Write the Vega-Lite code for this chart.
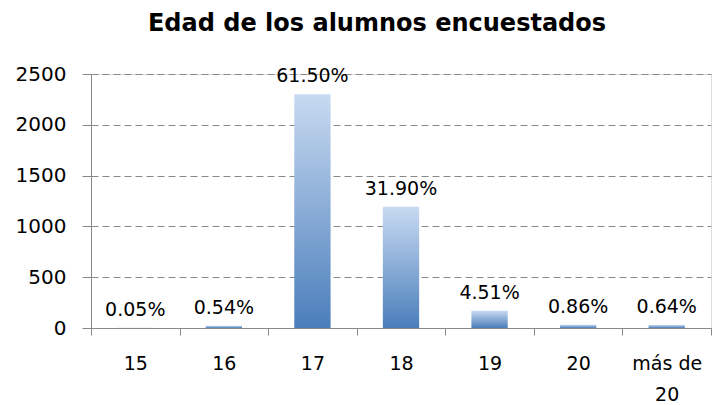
{
  "$schema": "https://vega.github.io/schema/vega-lite/v6.json",
  "width": 620,
  "height": 254,
  "autosize": {"type": "none"},
  "padding": {"left": 91, "top": 74, "right": 3, "bottom": 77},
  "background": "white",
  "title": {
    "text": "Edad de los alumnos encuestados",
    "font": "DejaVu Sans",
    "fontSize": 24,
    "fontWeight": "bold",
    "color": "#000000",
    "anchor": "middle",
    "dx": -24,
    "offset": 28
  },
  "data": {
    "values": [
      {"edad": "15", "alumnos": 2, "pct": "0.05%"},
      {"edad": "16", "alumnos": 22, "pct": "0.54%"},
      {"edad": "17", "alumnos": 2300, "pct": "61.50%"},
      {"edad": "18", "alumnos": 1193, "pct": "31.90%"},
      {"edad": "19", "alumnos": 169, "pct": "4.51%"},
      {"edad": "20", "alumnos": 32, "pct": "0.86%"},
      {"edad": "más de 20", "alumnos": 30, "pct": "0.64%"}
    ]
  },
  "encoding": {
    "x": {
      "field": "edad",
      "type": "nominal",
      "sort": null,
      "scale": {"paddingInner": 0, "paddingOuter": 0},
      "axis": {
        "title": null,
        "labelAngle": 0,
        "tickBand": "extent",
        "tickSize": 7,
        "tickColor": "#888888",
        "domainColor": "#888888",
        "labelFont": "DejaVu Sans",
        "labelFontSize": 19,
        "labelColor": "#000000",
        "labelPadding": 19,
        "labelLineHeight": 31,
        "labelExpr": "datum.label == 'más de 20' ? ['más de', '20'] : datum.label"
      }
    },
    "y": {
      "field": "alumnos",
      "type": "quantitative",
      "scale": {"domain": [0, 2500]},
      "axis": {
        "title": null,
        "format": "d",
        "values": [0, 500, 1000, 1500, 2000, 2500],
        "tickSize": 9,
        "tickColor": "#888888",
        "domainColor": "#888888",
        "gridColor": "#888888",
        "gridDash": [7, 4],
        "labelFont": "DejaVu Sans",
        "labelFontSize": 20,
        "labelColor": "#000000",
        "labelPadding": 16
      }
    }
  },
  "layer": [
    {
      "mark": {
        "type": "bar",
        "width": {"band": 0.41},
        "color": {
          "gradient": "linear",
          "x1": 0, "y1": 0, "x2": 0, "y2": 1,
          "stops": [
            {"offset": 0, "color": "#C8DAF1"},
            {"offset": 1, "color": "#4A7EBB"}
          ]
        }
      }
    },
    {
      "mark": {
        "type": "text",
        "baseline": "middle",
        "dy": -18,
        "font": "DejaVu Sans",
        "fontSize": 19,
        "color": "#000000"
      },
      "encoding": {"text": {"field": "pct"}}
    }
  ]
}
